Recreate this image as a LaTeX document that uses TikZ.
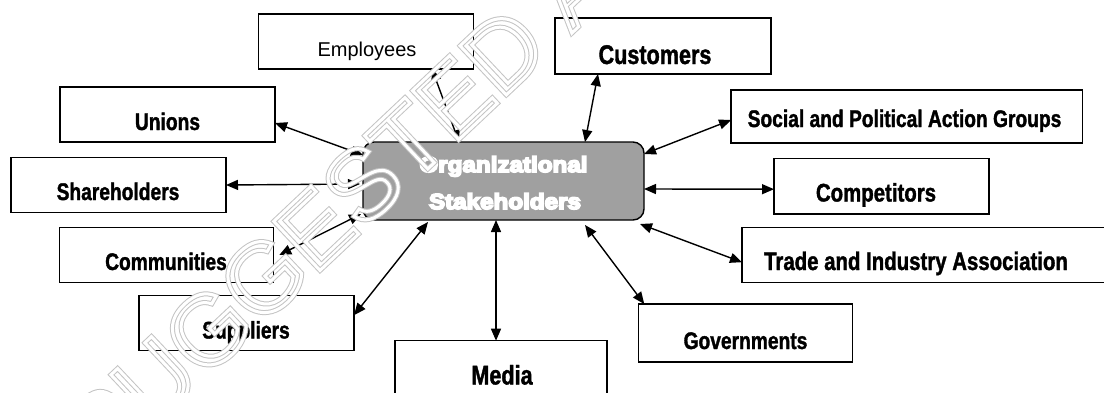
\documentclass[tikz,border=0pt]{standalone}
\usepackage{fontspec}
\setmainfont{Liberation Sans}
\newfontfamily\lblfont{Liberation Sans}[FakeStretch=0.8,FakeBold=1.4]
\newfontfamily\orgfont{Liberation Sans}[FakeStretch=1.12,FakeBold=8]
\newfontfamily\wmfont{Liberation Sans}
\usetikzlibrary{arrows.meta,calc}
\definecolor{orgfill}{HTML}{A0A0A0}
\definecolor{wmline}{HTML}{C4C4C4}
% stroke-only glyph outlines (text rendering mode 1) at a given line width
\newcommand{\outlinetext}[2]{\special{pdf:literal direct 1 Tr #1 w}#2\special{pdf:literal direct 0 Tr}}
\begin{document}
\begin{tikzpicture}[x=1pt,y=-1pt,
  box/.style={draw=black,line width=1.4pt,fill=white,rectangle,inner sep=0pt,outer sep=0pt,
              minimum width=215pt,minimum height=55pt},
  orgbox/.style={draw=black,line width=1.4pt,fill=orgfill,rectangle,rounded corners=11pt,
              inner sep=0pt,outer sep=0pt},
  orgtxt/.style={inner sep=0pt,anchor=base,text=white,font=\orgfont\bfseries\fontsize{21.6}{24}\selectfont},
  lbl/.style={inner sep=0pt,anchor=base,font=\lblfont\bfseries\fontsize{#1}{#1}\selectfont},
  lbl/.default=24,
  lblreg/.style={inner sep=0pt,anchor=base,font=\fontsize{20}{22}\selectfont},
  link/.style={line width=1.4pt,{Triangle[length=12pt,width=10pt]}-{Triangle[length=12pt,width=10pt]}},
  wm/.style={inner sep=0pt,anchor=base west,rotate=43.3,font=\wmfont\fontsize{98}{110}\selectfont}
]
\clip (0,0) rectangle (1104,392);
\fill[white] (0,0) rectangle (1104,392);

% central node
\node[orgbox,minimum width=281pt,minimum height=78pt] (org) at (503.5,181) {};
\node[orgtxt] (orgA) at (503.5,172) {Organizational};
\node[orgtxt] (orgB) at (505,209) {Stakeholders};

% stakeholder boxes
\node[box] (emp) at (366,41.5) {};

\node[box,minimum width=216pt,minimum height=56pt] (cust) at (663,46) {};
\node[lbl=27] (custT) at (655,64) {Customers};

\node[box] (uni) at (167.5,114.5) {};
\node[lbl] (uniT) at (167.5,130) {Unions};

\node[box] (sh) at (118.5,185) {};
\node[lbl] (shT) at (118,200) {Shareholders};

\node[box,minimum width=214pt] (com) at (166.3,255) {};
\node[lbl] (comT) at (166,270) {Communities};

\node[box] (sup) at (246.5,323.2) {};
\node[lbl] (supT) at (246,338.5) {Suppliers};

\node[box,minimum width=212pt,minimum height=58pt] (media) at (501,369.7) {};
\node[lbl=27] (mediaT) at (502,384.5) {Media};

\node[box,minimum width=214.5pt,minimum height=58pt] (gov) at (745.5,333) {};
\node[lbl] (govT) at (745.5,349) {Governments};

\node[box,minimum width=368pt] (trade) at (926,255.2) {};
\node[lbl=25.5] (tradeT) at (916,270) {Trade and Industry Association};

\node[box,minimum height=55.6pt] (comp) at (881.5,186.2) {};
\node[lbl=25.5] (compT) at (876,201.5) {Competitors};

\node[box,minimum width=351.5pt,minimum height=53pt] (soc) at (906.8,116.5) {};
\node[lbl] (socT) at (904.5,127) {Social and Political Action Groups};

% two-way links to the central node
\draw[link] ([xshift=66pt]emp.south) -- ([xshift=-44.5pt]org.north);
\draw[link] ([xshift=-65pt]cust.south) -- ([xshift=81.5pt]org.north);
\draw[link] ([yshift=-8.5pt]uni.east) -- ([yshift=26pt]org.west);
\draw[link] (sh.east) -- ([xshift=-3pt,yshift=-3pt]org.west);
\draw[link] ([xshift=6pt]com.east) -- ([xshift=-2pt,yshift=-33pt]org.west);
\draw[link] ([yshift=8pt]sup.east) -- ([xshift=-75.5pt,yshift=-2pt]org.south);
\draw[link] ([xshift=-5pt]media.north) -- ([xshift=-7.5pt]org.south);
\draw[link] ([xshift=6pt]gov.north west) -- ([xshift=81.5pt,yshift=-5pt]org.south);
\draw[link] ([yshift=-7pt]trade.west) -- ([xshift=-4pt,yshift=-4pt]org.south east);
\draw[link] ([yshift=-3pt]comp.west) -- ([yshift=-8pt]org.east);
\draw[link] ([yshift=-3.5pt]soc.west) -- ([yshift=27pt]org.east);

% regular-weight label, set last so plain text rendering is in force before the lettering below
\node[lblreg] (empT) at (367,56) {Employees};

% hollow watermark lettering across the diagram
\coordinate (wmbase) at (104,474);
\node[wm,text=wmline] (wmA) at (wmbase) {\outlinetext{5}{SUGGESTED ANSWER}};
\node[wm,text=white] (wmB) at (wmbase) {\outlinetext{3}{SUGGESTED ANSWER}};
\end{tikzpicture}
\end{document}
